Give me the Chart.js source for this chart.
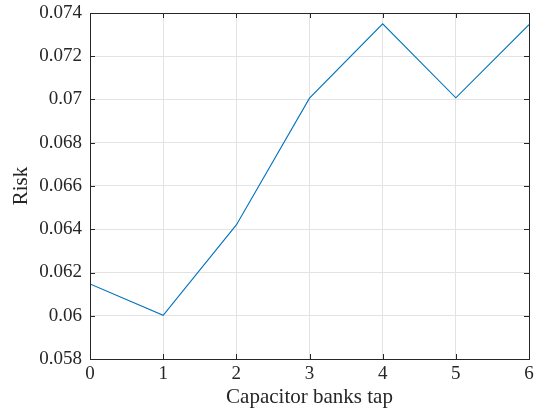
<!DOCTYPE html>
<html>
<head>
<meta charset="utf-8">
<script src="https://cdn.jsdelivr.net/npm/chart.js@4.4.1/dist/chart.umd.min.js"></script>
<style>
  html, body { margin: 0; padding: 0; background: #fff; }
  #wrap { width: 550px; height: 414px; }
</style>
</head>
<body>
<div id="wrap"><canvas id="c" width="550" height="414"></canvas></div>
<script>
const taps = [0, 1, 2, 3, 4, 5, 6];
const risk = [0.06147, 0.06002, 0.06420, 0.07006, 0.07350, 0.07008, 0.07346];
const yTicks = [0.058, 0.06, 0.062, 0.064, 0.066, 0.068, 0.07, 0.072, 0.074];

const axisColor = "#262626";
const fontFam = "'Liberation Serif', 'DejaVu Serif', serif";

// MATLAB style box + inward ticks
const boxTicks = {
  id: "boxTicks",
  afterDraw(chart) {
    const { ctx, chartArea: a, scales } = chart;
    const len = 5;
    ctx.save();
    ctx.strokeStyle = axisColor;
    ctx.lineWidth = 1;
    ctx.beginPath();
    scales.x.ticks.forEach((t) => {
      const px = Math.round(scales.x.getPixelForValue(t.value)) + 0.5;
      ctx.moveTo(px, a.bottom); ctx.lineTo(px, a.bottom - len);
      ctx.moveTo(px, a.top); ctx.lineTo(px, a.top + len);
    });
    scales.y.ticks.forEach((t) => {
      const py = Math.round(scales.y.getPixelForValue(t.value)) + 0.5;
      ctx.moveTo(a.left, py); ctx.lineTo(a.left + len, py);
      ctx.moveTo(a.right, py); ctx.lineTo(a.right - len, py);
    });
    ctx.stroke();
    ctx.strokeRect(Math.round(a.left) + 0.5, Math.round(a.top) + 0.5,
      Math.round(a.right - a.left), Math.round(a.bottom - a.top));
    ctx.restore();
  },
};

new Chart(document.getElementById("c"), {
  type: "line",
  data: {
    datasets: [{
      data: taps.map((x, i) => ({ x: x, y: risk[i] })),
      borderColor: "#0072BD",
      borderWidth: 1.1,
      pointRadius: 0,
      fill: false,
      tension: 0,
    }],
  },
  options: {
    responsive: false,
    animation: false,
    devicePixelRatio: 1,
    layout: { padding: { top: 13, right: 21, left: 0, bottom: 0 } },
    plugins: { legend: { display: false }, tooltip: { enabled: false } },
    scales: {
      x: {
        type: "linear",
        min: 0, max: 6,
        afterFit: (s) => { s.height = 55; s.paddingLeft = 0; s.paddingRight = 0; },
        ticks: { stepSize: 1, color: axisColor, padding: 4, font: { family: fontFam, size: 19 } },
        grid: { color: "#e3e3e3", drawTicks: false },
        border: { color: axisColor },
        title: { display: true, text: "Capacitor banks tap", color: axisColor, padding: { top: 1 }, font: { family: fontFam, size: 21 } },
      },
      y: {
        min: 0.058, max: 0.074,
        afterFit: (s) => { s.width = 90; s.paddingTop = 0; s.paddingBottom = 0; },
        afterBuildTicks: (s) => { s.ticks = yTicks.map((v) => ({ value: v })); },
        ticks: {
          color: axisColor, padding: 8, font: { family: fontFam, size: 19 },
          callback: (v) => String(parseFloat(v.toFixed(3))),
        },
        grid: { color: "#e3e3e3", drawTicks: false },
        border: { color: axisColor },
        title: { display: true, text: "Risk", color: axisColor, padding: { top: 9, bottom: 0 }, font: { family: fontFam, size: 21 } },
      },
    },
  },
  plugins: [boxTicks],
});
</script>
</body>
</html>
